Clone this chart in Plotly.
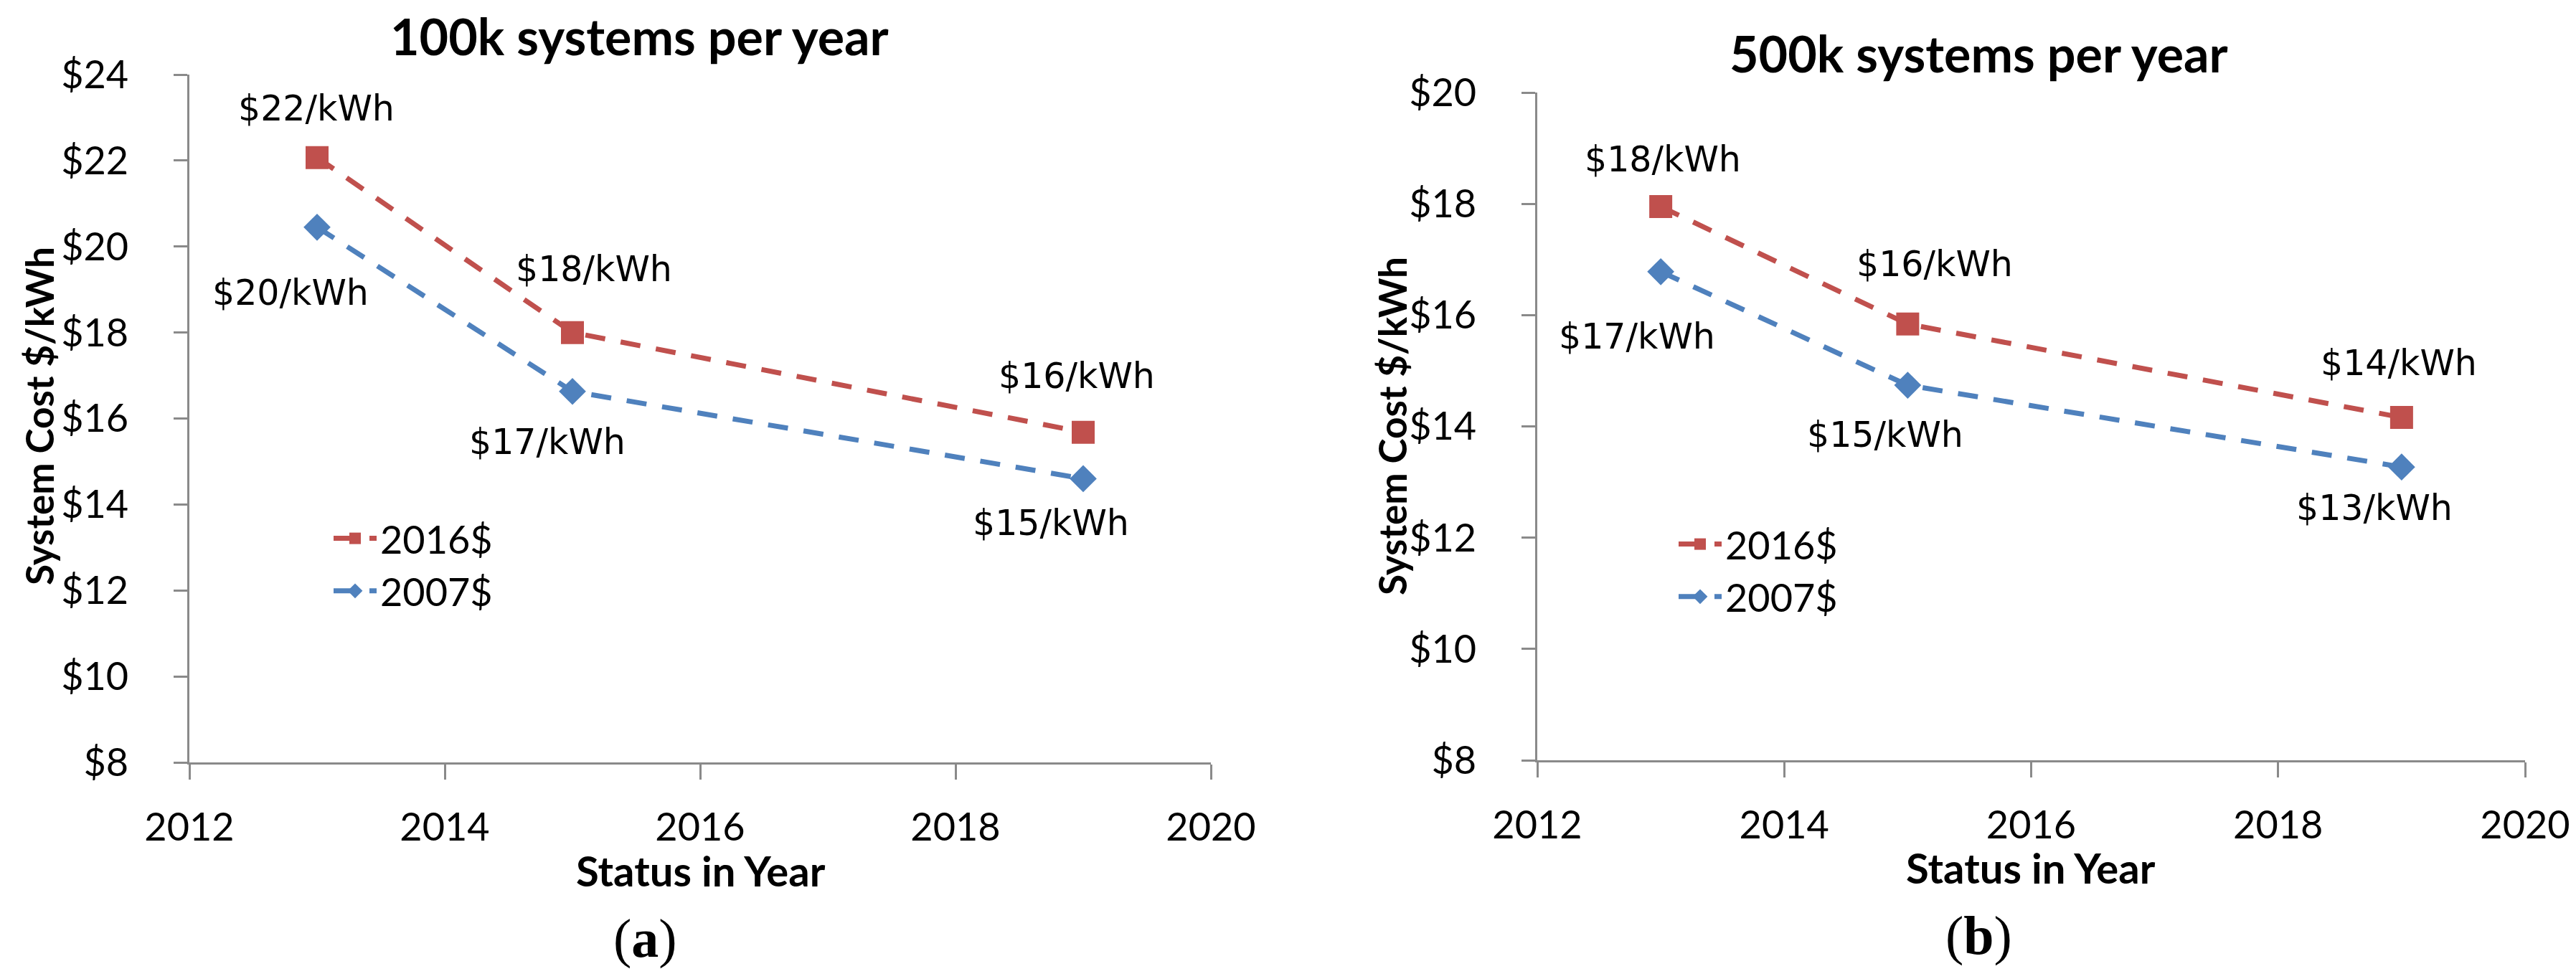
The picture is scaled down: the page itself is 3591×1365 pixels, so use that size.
import plotly.graph_objects as go

# ---------------- data ----------------
years = [2013, 2015, 2019]
series_names = ["2016$", "2007$"]

cost_100k_2016 = [22.07, 18.0, 15.68]
cost_100k_2007 = [20.45, 16.63, 14.6]
cost_500k_2016 = [17.95, 15.84, 14.16]
cost_500k_2007 = [16.78, 14.74, 13.27]

labels_100k_2016 = ["$22/kWh", "$18/kWh", "$16/kWh"]
labels_100k_2007 = ["$20/kWh", "$17/kWh", "$15/kWh"]
labels_500k_2016 = ["$18/kWh", "$16/kWh", "$14/kWh"]
labels_500k_2007 = ["$17/kWh", "$15/kWh", "$13/kWh"]

title_a = "100k systems per year"
title_b = "500k systems per year"
x_title = "Status in Year"
y_title = "System Cost $/kWh"
x_ticks = [2012, 2014, 2016, 2018, 2020]
x_ticktext = ["2012", "2014", "2016", "2018", "2020"]
y_ticks_a = [8, 10, 12, 14, 16, 18, 20, 22, 24]
y_ticktext_a = ["$8", "$10", "$12", "$14", "$16", "$18", "$20", "$22", "$24"]
y_ticks_b = [8, 10, 12, 14, 16, 18, 20]
y_ticktext_b = ["$8", "$10", "$12", "$14", "$16", "$18", "$20"]
panel_labels = ["(<b>a</b>)", "(<b>b</b>)"]

# ---------------- style ----------------
W, H = 3591, 1365
RED = "#C0504D"
BLUE = "#4F81BD"
AXIS = "#8A8A8A"
TICK_FONT = dict(family="Lato", size=54, color="black")
LEGEND_FONT = dict(family="Lato", size=54, color="black")
LABEL_FONT = dict(family="DejaVu Sans", size=49, color="black")
XT_FONT = dict(family="Lato", size=58, color="black", weight="bold")
YT_FONT = dict(family="Lato", size=53, color="black", weight="bold")
TITLE_FONT = dict(family="Lato", size=70, color="black", weight="bold")


def px_x(p):
    return p / W


def px_y(p):
    return 1 - p / H


# label offsets (pixels, +x right, +y up)
offs_a_2016 = [(-1, 68), (30, 88), (-9, 78)]
offs_a_2007 = [(-37, -92), (-35, -71), (-45, -62)]
offs_b_2016 = [(3, 66), (38, 83), (-4, 76)]
offs_b_2007 = [(-33, -91), (-31, -69), (-38, -57)]

fig = go.Figure()

line_style = dict(width=7, dash="28px,22px")


def add_series(xa, ya, vals, name, color, symbol, size, legend):
    fig.add_trace(go.Scatter(
        x=years, y=vals, name=name, mode="lines+markers",
        xaxis=xa, yaxis=ya, legend=legend,
        line=dict(color=color, **line_style),
        marker=dict(color=color, symbol=symbol, size=size, line=dict(width=0)),
    ))


add_series("x", "y", cost_100k_2016, series_names[0], RED, "square", 32, "legend")
add_series("x", "y", cost_100k_2007, series_names[1], BLUE, "diamond", 29, "legend")
add_series("x2", "y2", cost_500k_2016, series_names[0], RED, "square", 32, "legend2")
add_series("x2", "y2", cost_500k_2007, series_names[1], BLUE, "diamond", 29, "legend2")

annotations = []


def add_labels(xref, yref, vals, labels, offs):
    for xv, yv, t, (dx, dy) in zip(years, vals, labels, offs):
        annotations.append(dict(
            x=xv, y=yv, xref=xref, yref=yref, text=t, showarrow=False,
            xanchor="center", yanchor="middle", xshift=dx, yshift=dy,
            font=LABEL_FONT,
        ))


add_labels("x", "y", cost_100k_2016, labels_100k_2016, offs_a_2016)
add_labels("x", "y", cost_100k_2007, labels_100k_2007, offs_a_2007)
add_labels("x2", "y2", cost_500k_2016, labels_500k_2016, offs_b_2016)
add_labels("x2", "y2", cost_500k_2007, labels_500k_2007, offs_b_2007)


def paper_text(text, cx, cy, font, angle=0):
    annotations.append(dict(
        x=px_x(cx), y=px_y(cy), xref="paper", yref="paper", text=text,
        showarrow=False, xanchor="center", yanchor="middle", font=font,
        textangle=angle,
    ))


paper_text(title_a, 883, 42, TITLE_FONT)
paper_text(title_b, 2750, 66, TITLE_FONT)
paper_text(x_title, 969, 1205, XT_FONT)
paper_text(x_title, 2823, 1201, XT_FONT)
paper_text(y_title, 46, 572, YT_FONT, -90)
paper_text(y_title, 1932, 586, YT_FONT, -90)
serif = dict(family="Liberation Serif", size=76, color="black")
paper_text(panel_labels[0], 891, 1300, serif)
paper_text(panel_labels[1], 2750, 1296, serif)

xaxis_common = dict(
    range=[2012, 2020], tickvals=x_ticks, ticktext=x_ticktext,
    showgrid=False, zeroline=False, automargin=False,
    showline=True, linecolor=AXIS, linewidth=3, ticks="outside",
    ticklen=21, tickwidth=3, tickcolor=AXIS, tickfont=TICK_FONT,
    ticklabelstandoff=20,
)
yaxis_common = dict(
    showgrid=False, zeroline=False, showline=True, linecolor=AXIS,
    automargin=False,
    linewidth=3, ticks="outside", ticklen=19, tickwidth=3, tickcolor=AXIS,
    tickfont=TICK_FONT, ticklabelstandoff=52,
)

legend_common = dict(
    font=LEGEND_FONT, bgcolor="rgba(0,0,0,0)", borderwidth=0,
    xanchor="left", yanchor="top", itemwidth=60, traceorder="normal",
)

fig.update_layout(
    width=W, height=H, margin=dict(l=0, r=0, t=0, b=0, autoexpand=False),
    paper_bgcolor="white", plot_bgcolor="white",
    showlegend=True,
    xaxis=dict(domain=[px_x(256), px_x(1680)], anchor="y", **xaxis_common),
    yaxis=dict(domain=[px_y(1055), px_y(96)], anchor="x", range=[8, 24],
               tickvals=y_ticks_a, ticktext=y_ticktext_a, **yaxis_common),
    xaxis2=dict(domain=[px_x(2135), px_x(3512)], anchor="y2", **xaxis_common),
    yaxis2=dict(domain=[px_y(1052), px_y(121)], anchor="x2", range=[8, 20],
                tickvals=y_ticks_b, ticktext=y_ticktext_b, **yaxis_common),
    legend=dict(x=px_x(452), y=px_y(701), **legend_common),
    legend2=dict(x=px_x(2327), y=px_y(709), **legend_common),
    annotations=annotations,
)

fig.write_html("out.html")
